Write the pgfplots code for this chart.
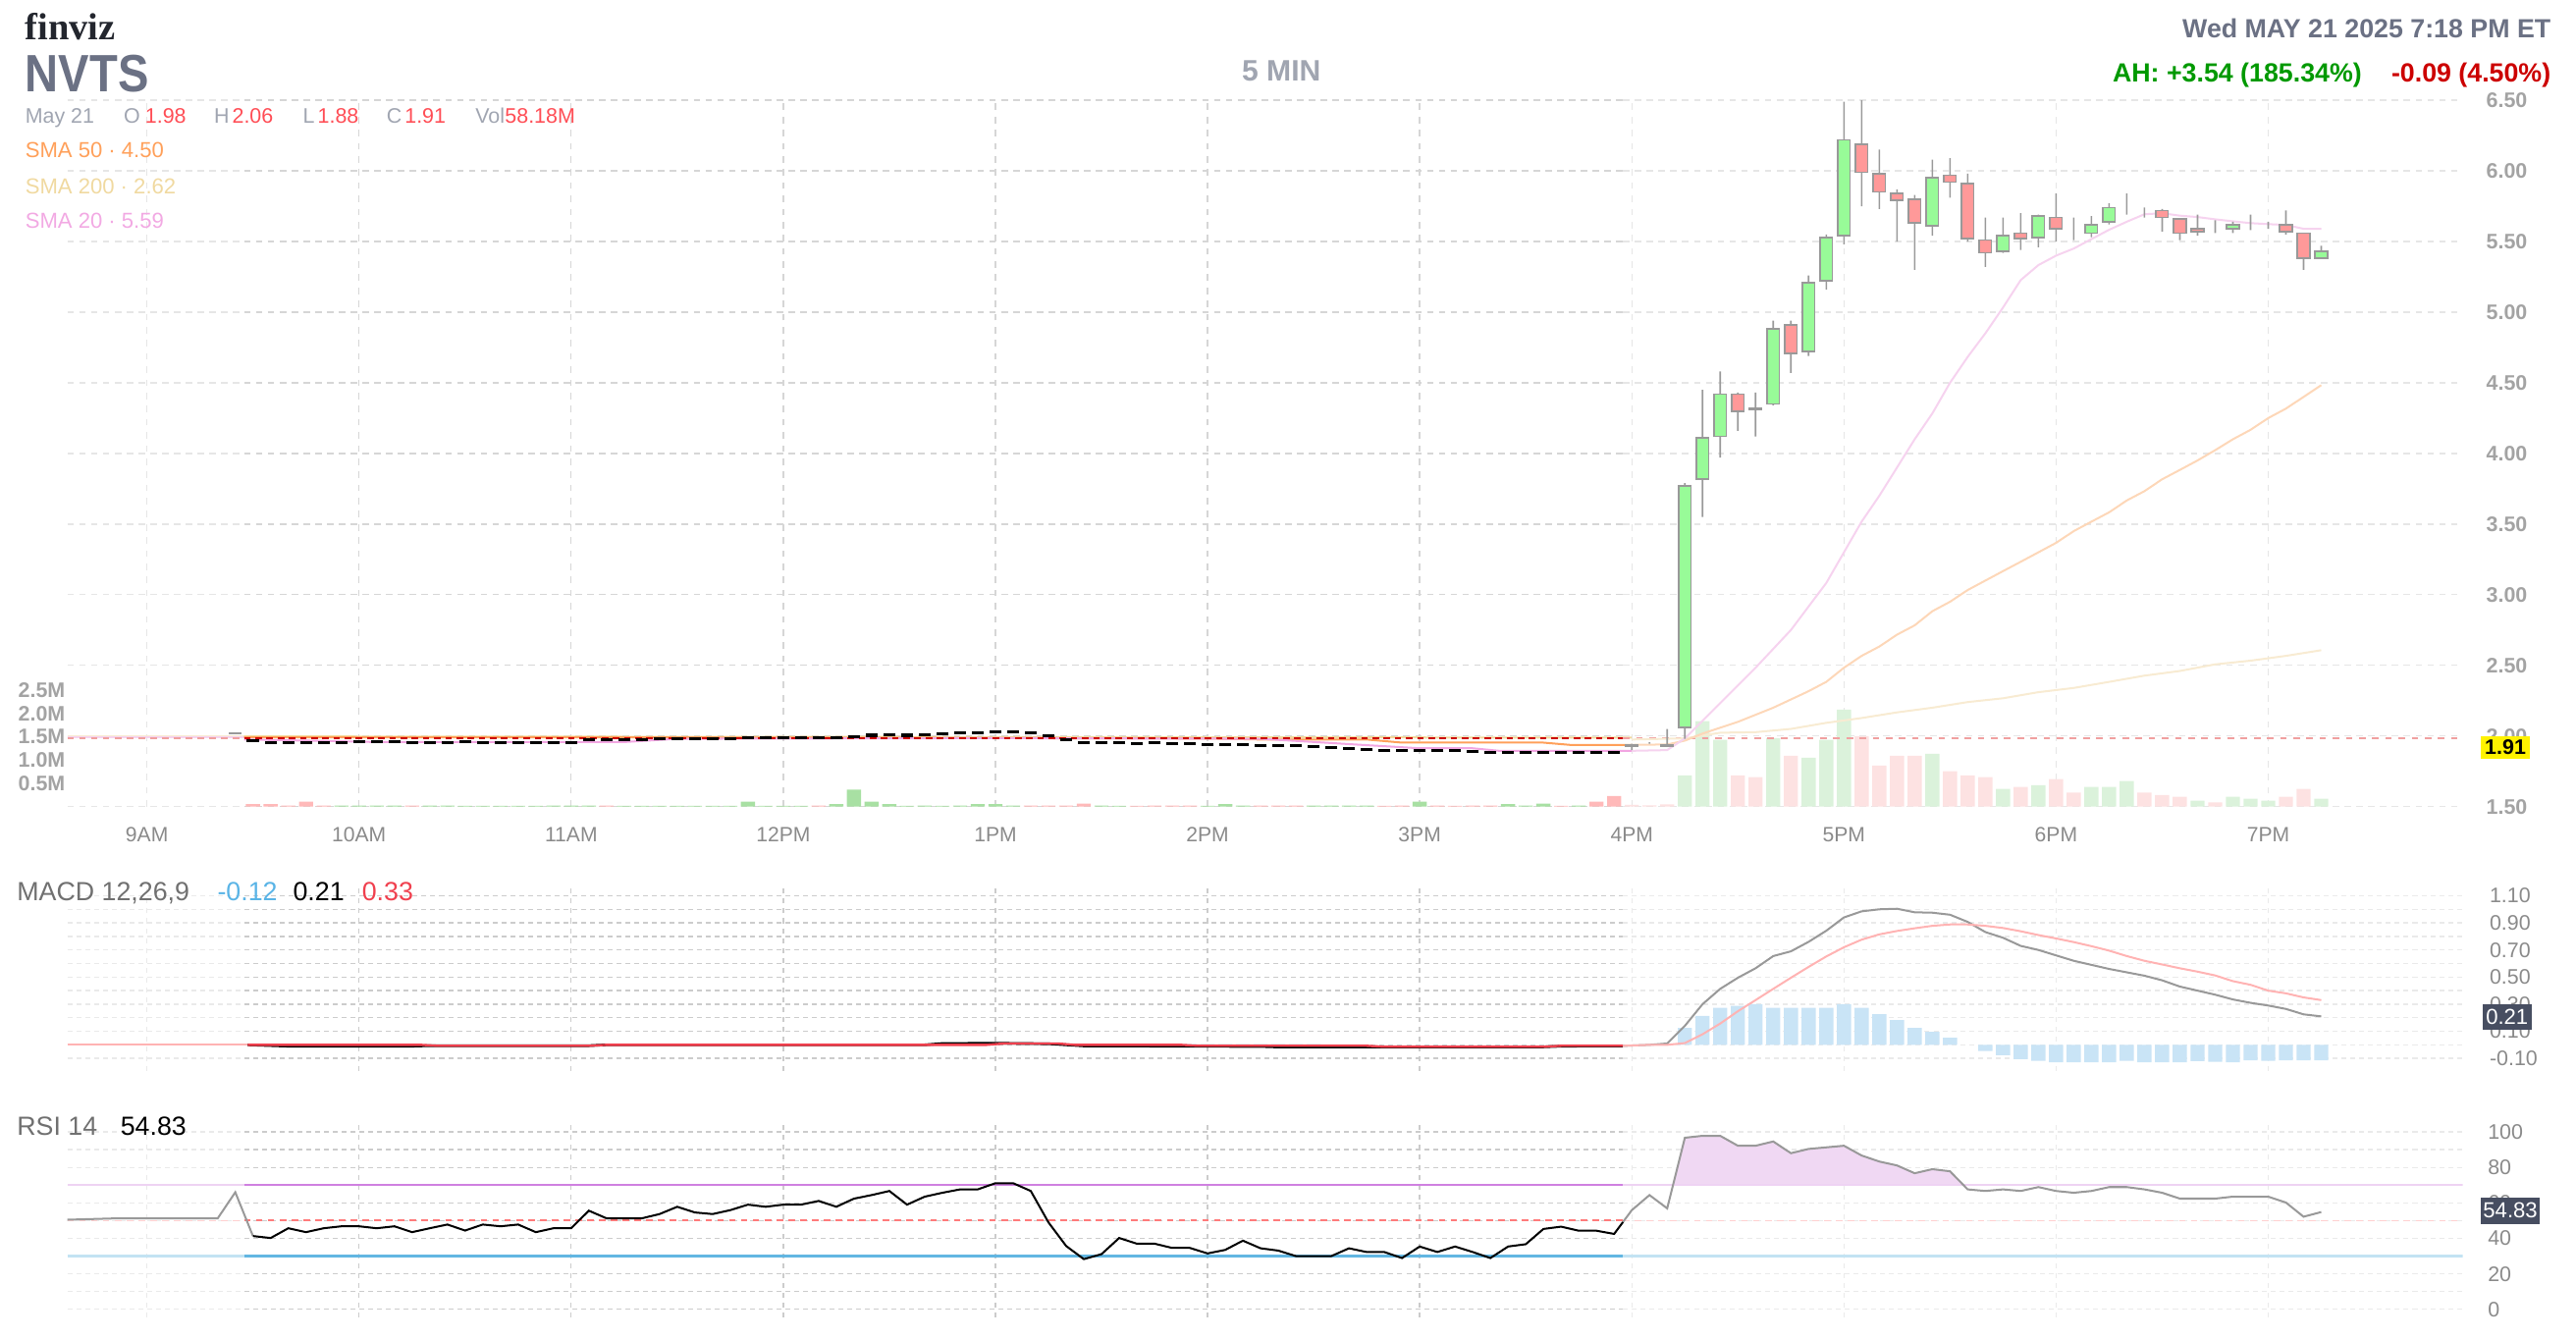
\documentclass[border=0pt]{standalone}
\usepackage{fontspec}
\setmainfont{Liberation Sans}
\newfontfamily\logofont{Liberation Serif}
\usepackage{graphicx}
\usepackage{pgfplots}
\usepackage{pgfplotstable}
\pgfplotsset{compat=1.18}

\definecolor{cgray}{HTML}{999999}
\definecolor{cgreen}{HTML}{98FB98}
\definecolor{cred}{HTML}{FF9999}
\definecolor{vgreen}{HTML}{A8E0A3}
\definecolor{vred}{HTML}{FFB9B9}
\definecolor{vgreenl}{HTML}{DBF2DB}
\definecolor{vredl}{HTML}{FDE2E2}
\definecolor{sma50}{HTML}{FFA05A}
\definecolor{sma50l}{HTML}{FDD7B8}
\definecolor{sma200}{HTML}{F2D89C}
\definecolor{sma200l}{HTML}{F8EBD2}
\definecolor{sma20}{HTML}{F2A6E2}
\definecolor{sma20l}{HTML}{F6D3EF}
\definecolor{closer}{HTML}{CC0000}
\definecolor{closerl}{HTML}{F0A0A0}
\definecolor{gridd}{HTML}{CCCCCC}
\definecolor{gridl}{HTML}{EAEAEA}
\definecolor{pgridd}{HTML}{D6D6D6}
\definecolor{pgridl}{HTML}{E6E6E6}
\definecolor{ticktxt}{HTML}{8A8A8A}
\definecolor{pricetxt}{HTML}{A3A3A3}
\definecolor{slate}{HTML}{6B7184}
\definecolor{lightslate}{HTML}{A0A5B1}
\definecolor{logo}{HTML}{23262E}
\definecolor{ahgreen}{HTML}{009900}
\definecolor{ahred}{HTML}{CC0000}
\definecolor{valred}{HTML}{FF4D55}
\definecolor{macdblue}{HTML}{5AB4E6}
\definecolor{histl}{HTML}{C9E4F6}
\definecolor{sigred}{HTML}{F0404E}
\definecolor{sigl}{HTML}{FFB3B3}
\definecolor{rsifill}{HTML}{F0D8F3}
\definecolor{r70}{HTML}{CF80E0}
\definecolor{r70l}{HTML}{EED3F3}
\definecolor{r30}{HTML}{62B6E2}
\definecolor{r30l}{HTML}{C3E3F3}
\definecolor{r50}{HTML}{FF7B7B}
\definecolor{r50l}{HTML}{FFD0D0}
\definecolor{tagdark}{HTML}{474E61}
\definecolor{labgrey}{HTML}{707070}
\definecolor{smatxt50}{HTML}{FFA05A}
\definecolor{smatxt200}{HTML}{F0D9A0}
\definecolor{smatxt20}{HTML}{F2A9E3}

\newcommand\fs[1]{\fontsize{#1}{#1}\selectfont}

\pgfplotsset{
 panel/.style={scale only axis, anchor=north west, at={(20.5pt,#1)}, width=729pt,
   xmin=-4.5, xmax=131, axis line style={draw=none}, tick style={draw=none}, major tick length=0pt},
 blank/.style={panel=#1, xtick=\empty, ytick=\empty},
 seg1/.style={at={(20.5pt,#1)}, xmin=-4.5, xmax=5.5, width=53.8pt, xtick={0}},
 seg2/.style={at={(74.3pt,#1)}, xmin=5.5, xmax=83.5, width=419.64pt, xtick={12,24,36,48,60,72}},
 seg3/.style={at={(493.94pt,#1)}, xmin=83.5, xmax=131, width=255.56pt, xtick={84,96,108,120}},
 gridbase/.style={panel=#1, xticklabel={\relax}, yticklabel={\relax}, grid=major},
 pg/.style={y grid style={draw=#1, line width=0.4pt, dash pattern=on 2pt off 1.6pt},
            x grid style={draw=#1, line width=0.4pt, dash pattern=on 2pt off 2pt}},
 ig/.style={y grid style={draw=#1, line width=0.4pt, dash pattern=on 1.5pt off 1.2pt},
            x grid style={draw=#1, line width=0.4pt, dash pattern=on 1.5pt off 1.5pt}},
 pricey/.style={height=215pt, ymin=1.5, ymax=6.5},
 macdy/.style={height=56pt, ymin=-0.1939, ymax=1.1636},
 rsiy/.style={height=58.5pt, ymin=-4.63, ymax=103.7},
 rlab/.style={yticklabel pos=right, yticklabel style={anchor=west, inner sep=0pt, xshift=#1, font=\fs{6.4pt}, text=ticktxt}},
}

% after-hours candles: bar index (5-min bars from 9:00), open, high, low, close
\pgfplotstableread{
i O H L C
84 1.94 1.945 1.90 1.93
85 1.95 1.955 1.945 1.95
86 1.94 2.05 1.93 1.93
87 2.06 3.79 1.98 3.77
88 3.82 4.45 3.55 4.11
89 4.12 4.58 3.97 4.42
90 4.42 4.43 4.16 4.30
91 4.31 4.43 4.12 4.32
92 4.35 4.94 4.34 4.88
93 4.91 4.94 4.57 4.71
94 4.72 5.26 4.69 5.21
95 5.22 5.55 5.16 5.53
96 5.54 6.49 5.48 6.22
97 6.19 6.50 5.75 5.99
98 5.98 6.15 5.73 5.85
99 5.84 5.87 5.50 5.79
100 5.80 5.83 5.30 5.63
101 5.61 6.08 5.54 5.95
102 5.97 6.09 5.81 5.92
103 5.91 5.98 5.50 5.52
104 5.51 5.67 5.32 5.42
105 5.43 5.67 5.42 5.54
106 5.56 5.70 5.44 5.52
107 5.53 5.69 5.46 5.68
108 5.67 5.84 5.50 5.59
109 5.58 5.67 5.51 5.58
110 5.56 5.68 5.53 5.62
111 5.64 5.77 5.62 5.74
112 5.74 5.84 5.69 5.74
113 5.74 5.74 5.67 5.74
114 5.72 5.73 5.57 5.67
115 5.66 5.66 5.51 5.56
116 5.59 5.69 5.54 5.57
117 5.59 5.65 5.56 5.59
118 5.59 5.64 5.56 5.62
119 5.63 5.69 5.58 5.63
120 5.62 5.64 5.59 5.62
121 5.62 5.72 5.55 5.57
122 5.56 5.56 5.30 5.38
123 5.38 5.47 5.38 5.43
}\ahc

% regular session closes
\pgfplotstableread{
i c
6 1.965
7 1.955
8 1.955
9 1.950
10 1.955
11 1.955
12 1.960
13 1.958
14 1.958
15 1.953
16 1.953
17 1.955
18 1.960
19 1.955
20 1.953
21 1.953
22 1.950
23 1.953
24 1.953
25 1.975
26 1.972
27 1.975
28 1.975
29 1.978
30 1.980
31 1.980
32 1.980
33 1.982
34 1.985
35 1.985
36 1.985
37 1.985
38 1.990
39 1.990
40 1.998
41 2.005
42 2.010
43 2.005
44 2.010
45 2.015
46 2.020
47 2.025
48 2.030
49 2.030
50 2.020
51 2.000
52 1.972
53 1.955
54 1.955
55 1.950
56 1.945
57 1.950
58 1.945
59 1.945
60 1.940
61 1.940
62 1.940
63 1.935
64 1.935
65 1.930
66 1.925
67 1.915
68 1.910
69 1.905
70 1.900
71 1.895
72 1.895
73 1.895
74 1.895
75 1.890
76 1.885
77 1.885
78 1.885
79 1.880
80 1.880
81 1.880
82 1.885
83 1.885
}\regc

\pgfplotstableread{
i r
6 41.3
7 40.2
8 45.7
9 43.5
10 45.7
11 46.8
12 46.8
13 45.7
14 46.8
15 43.5
16 45.7
17 47.8
18 44.4
19 47.8
20 46.8
21 47.8
22 43.5
23 45.7
24 45.7
25 55.6
26 51.3
27 51.3
28 51.3
29 53.7
30 57.8
31 54.6
32 53.7
33 55.9
34 59.0
35 57.8
36 59.0
37 59.0
38 61.1
39 57.8
40 62.4
41 64.4
42 66.7
43 59.0
44 63.5
45 65.7
46 67.6
47 67.6
48 71.1
49 71.1
50 66.7
51 49.0
52 35.7
53 28.3
54 31.1
55 40.2
56 37.0
57 37.0
58 34.6
59 34.6
60 31.5
61 33.5
62 38.7
63 34.4
64 33.1
65 30.0
66 30.0
67 30.0
68 34.4
69 32.3
70 32.3
71 28.9
72 35.4
73 32.3
74 35.4
75 32.3
76 28.9
77 35.4
78 36.7
79 45.3
80 46.6
81 44.3
82 44.3
83 42.5
83.5 49.2
}\rsireg

\pgfplotstableread{
i r
83.5 49.2
84 55.9
85 64.4
86 56.9
87 96.7
88 97.8
89 97.8
90 92.2
91 92.2
92 94.6
93 88.0
94 90.4
95 91.3
96 92.2
97 86.7
98 83.3
99 81.1
100 76.7
101 79.0
102 77.8
103 67.6
104 66.7
105 67.6
106 66.7
107 68.9
108 66.7
109 65.7
110 66.7
111 68.9
112 68.9
113 67.6
114 65.7
115 62.4
116 62.4
117 62.4
118 63.5
119 63.5
120 63.5
121 60.2
122 52.2
123 54.83
}\rsiah

\begin{document}
\begin{tikzpicture}
\useasboundingbox (0,0) rectangle (784pt,-407.5pt);

% ---------- grids (extended hours lighter, regular session darker)
\begin{axis}[gridbase=0pt, pricey, seg1=-30.5pt, pg=pgridl, ytick={1.5,2,2.5,3,3.5,4,4.5,5,5.5,6,6.5}]\end{axis}
\begin{axis}[gridbase=0pt, pricey, seg2=-30.5pt, pg=pgridd, ytick={1.5,2,2.5,3,3.5,4,4.5,5,5.5,6,6.5}]\end{axis}
\begin{axis}[gridbase=0pt, pricey, seg3=-30.5pt, pg=pgridl, ytick={1.5,2,2.5,3,3.5,4,4.5,5,5.5,6,6.5}]\end{axis}
\begin{axis}[gridbase=0pt, macdy, seg1=-270pt, ig=gridl, ytick={-0.1,0,0.1,0.2,0.3,0.4,0.5,0.6,0.7,0.8,0.9,1,1.1}]\end{axis}
\begin{axis}[gridbase=0pt, macdy, seg2=-270pt, ig=gridd, ytick={-0.1,0,0.1,0.2,0.3,0.4,0.5,0.6,0.7,0.8,0.9,1,1.1}]\end{axis}
\begin{axis}[gridbase=0pt, macdy, seg3=-270pt, ig=gridl, ytick={-0.1,0,0.1,0.2,0.3,0.4,0.5,0.6,0.7,0.8,0.9,1,1.1}]\end{axis}
\begin{axis}[gridbase=0pt, rsiy, seg1=-342.5pt, ig=gridl, ytick={0,10,...,100}]\end{axis}
\begin{axis}[gridbase=0pt, rsiy, seg2=-342.5pt, ig=gridd, ytick={0,10,...,100}]\end{axis}
\begin{axis}[gridbase=0pt, rsiy, seg3=-342.5pt, ig=gridl, ytick={0,10,...,100}]\end{axis}

% ---------- price axis labels
\begin{axis}[panel=-30.5pt, pricey,
  ytick={1.5,2,2.5,3,3.5,4,4.5,5,5.5,6,6.5},
  yticklabels={1.50,2.00,2.50,3.00,3.50,4.00,4.50,5.00,5.50,6.00,6.50},
  yticklabel pos=right,
  yticklabel style={anchor=west, inner sep=0pt, xshift=7pt, font=\fs{6.4pt}\bfseries, text=pricetxt},
  xtick={0,12,...,120},
  xticklabels={9AM,10AM,11AM,12PM,1PM,2PM,3PM,4PM,5PM,6PM,7PM},
  xticklabel style={anchor=base, inner sep=0pt, yshift=-10.85pt, font=\fs{6.3pt}, text=ticktxt}]
\end{axis}

% ---------- volume
\begin{axis}[panel=-30.5pt, height=215pt, ymin=0, ymax=15.14, xtick=\empty,
  ytick={0.5,1,1.5,2,2.5}, yticklabels={0.5M,1.0M,1.5M,2.0M,2.5M},
  yticklabel style={anchor=east, inner sep=0pt, xshift=-0.5pt, font=\fs{6.4pt}\bfseries, text=pricetxt}]
\addplot[ybar, bar width=0.8, bar shift=0pt, fill=vgreen, draw=none] coordinates {
(11,0.02)(12,0.02)(13,0.02)(14,0.02)(16,0.02)(17,0.02)(18,0.015)(19,0.015)(20,0.015)(21,0.015)(22,0.015)(23,0.02)(24,0.02)(25,0.02)(27,0.015)(28,0.015)(29,0.015)(30,0.015)(31,0.015)(32,0.015)(33,0.015)(34,0.105)(35,0.015)(36,0.015)(37,0.015)(39,0.056)(40,0.365)(41,0.105)(42,0.056)(43,0.015)(44,0.02)(45,0.015)(46,0.02)(47,0.056)(48,0.056)(49,0.02)(54,0.02)(55,0.015)(60,0.015)(61,0.056)(62,0.02)(66,0.02)(67,0.02)(68,0.02)(69,0.02)(72,0.105)(77,0.056)(78,0.02)(79,0.063)(81,0.02)};
\addplot[ybar, bar width=0.8, bar shift=0pt, fill=vred, draw=none] coordinates {
(6,0.056)(7,0.056)(8,0.02)(9,0.105)(10,0.02)(15,0.02)(26,0.02)(38,0.02)(50,0.02)(51,0.02)(52,0.02)(53,0.063)(56,0.015)(57,0.02)(58,0.02)(59,0.02)(63,0.02)(64,0.02)(65,0.02)(70,0.015)(71,0.02)(73,0.02)(74,0.015)(75,0.02)(76,0.02)(80,0.015)(82,0.105)(83,0.23)};
\addplot[ybar, bar width=0.8, bar shift=0pt, fill=vgreenl, draw=none] coordinates {
(87,0.67)(88,1.83)(89,1.43)(92,1.47)(94,1.05)(95,1.43)(96,2.08)(101,1.13)(105,0.38)(107,0.46)(110,0.42)(111,0.42)(112,0.55)(116,0.13)(118,0.21)(119,0.17)(120,0.13)(123,0.17)};
\addplot[ybar, bar width=0.8, bar shift=0pt, fill=vredl, draw=none] coordinates {
(84,0.04)(85,0.03)(86,0.05)(90,0.67)(91,0.63)(93,1.09)(97,1.51)(98,0.88)(99,1.09)(100,1.09)(102,0.76)(103,0.67)(104,0.63)(106,0.42)(108,0.59)(109,0.30)(113,0.30)(114,0.25)(115,0.21)(117,0.09)(121,0.21)(122,0.38)};
\end{axis}

% ---------- price lines and regular-session candles
\begin{axis}[blank=-30.5pt, pricey]
% pre-market (faded)
\addplot[sma200l, line width=0.5pt] coordinates {(-4.5,2.0)(5.5,2.0)};
\addplot[sma50l, line width=0.5pt] coordinates {(-4.5,1.995)(5.5,1.995)};
\addplot[sma20l, line width=0.5pt] coordinates {(-4.5,1.99)(5.5,1.99)};
\addplot[closerl, line width=0.5pt, dash pattern=on 2pt off 1.6pt] coordinates {(-4.5,1.985)(5.5,1.985)};
% regular session
\addplot[sma200, line width=0.6pt] coordinates {(5.5,1.997)(84,1.988)};
\addplot[sma50, line width=0.6pt] coordinates {(5.5,1.99)(30,1.99)(48,1.985)(60,1.982)(63,1.975)(69,1.975)(71,1.953)(79,1.953)(80.5,1.937)(84,1.937)};
\addplot[sma20, line width=0.6pt] coordinates {(5.5,1.975)(10,1.965)(13,1.957)(27,1.957)(30,1.98)(48,1.985)(63,1.98)(69,1.935)(72,1.913)(75,1.913)(76.5,1.895)(84,1.895)};
\addplot[closer, line width=0.6pt, dash pattern=on 2pt off 1.4pt] coordinates {(5.5,1.985)(83.5,1.985)};
% after hours (faded)
\addplot[closerl, line width=0.5pt, dash pattern=on 2pt off 2pt] coordinates {(83.5,1.985)(131,1.985)};
\addplot[sma200l, line width=0.6pt] coordinates {(84,1.975)(87,1.983)(89,2.023)(91,2.027)(93,2.05)(95,2.093)(97,2.127)(99,2.167)(101,2.20)(103,2.24)(105,2.267)(107,2.31)(109,2.34)(111,2.383)(113,2.427)(115,2.46)(117,2.507)(119,2.533)(121,2.567)(123,2.607)};
\addplot[sma50l, line width=0.6pt] coordinates {(84,1.937)(86,1.94)(87,1.967)(88,2.017)(90,2.10)(92,2.20)(94,2.317)(95,2.383)(96,2.483)(97,2.567)(98,2.633)(99,2.717)(100,2.783)(101,2.883)(102,2.95)(103,3.033)(104,3.10)(105,3.167)(106,3.233)(107,3.30)(108,3.367)(109,3.45)(110,3.517)(111,3.583)(112,3.667)(113,3.733)(114,3.817)(115,3.883)(116,3.95)(117,4.023)(118,4.10)(119,4.167)(120,4.25)(121,4.317)(122,4.40)(123,4.483)};
\addplot[sma20l, line width=0.6pt] coordinates {(84,1.895)(86,1.90)(87,1.983)(89,2.233)(91,2.483)(93,2.75)(95,3.083)(96,3.30)(97,3.517)(98,3.70)(99,3.90)(100,4.10)(101,4.283)(102,4.50)(103,4.683)(104,4.85)(105,5.033)(106,5.227)(107,5.333)(108,5.40)(109,5.45)(110,5.517)(111,5.583)(112,5.64)(113,5.693)(114,5.70)(115,5.683)(116,5.673)(117,5.657)(118,5.643)(119,5.63)(120,5.623)(121,5.617)(122,5.59)(123,5.59)};
% regular-session candles (tiny, black)
\addplot[only marks, mark=-, mark size=1.85pt, mark options={line width=0.9pt, black}] table[x=i, y=c] {\regc};
% pre-market candle
\addplot[only marks, mark=-, mark size=1.85pt, mark options={line width=0.7pt, cgray}] coordinates {(5,2.02)};
\end{axis}

% ---------- after-hours wicks
\begin{axis}[blank=-30.5pt, pricey, ybar stacked, bar width=0.09, clip=false]
\addplot[draw=none, fill=none] table[x=i, y=L] {\ahc};
\addplot[draw=none, fill=cgray] table[x=i, y expr={\thisrow{H}-\thisrow{L}}] {\ahc};
\end{axis}
% ---------- after-hours bodies
\begin{axis}[blank=-30.5pt, pricey, ybar stacked, bar width=0.69, clip=false]
\addplot[draw=none, fill=none] table[x=i, y expr={min(\thisrow{O},\thisrow{C})}] {\ahc};
\addplot[draw=cgray, fill=cgreen, line width=0.5pt] table[x=i, y expr={max(\thisrow{C}-\thisrow{O},0)}] {\ahc};
\addplot[draw=cgray, fill=cred, line width=0.5pt] table[x=i, y expr={max(\thisrow{O}-\thisrow{C},0)}] {\ahc};
\end{axis}

% ---------- MACD
\begin{axis}[panel=-270pt, macdy, xtick=\empty, rlab=8pt,
  ytick={-0.1,0.1,0.3,0.5,0.7,0.9,1.1},
  yticklabels={-0.10,0.10,0.30,0.50,0.70,0.90,1.10}]
\addplot[ybar, bar width=0.8, bar shift=0pt, fill=macdblue, draw=none] coordinates {(59,0.004)(60,0.004)(61,0.004)(62,0.004)(63,0.004)(64,0.004)(65,0.004)(66,0.004)};
\addplot[ybar, bar width=0.8, bar shift=0pt, fill=histl, draw=none] coordinates {
(87,0.124)(88,0.213)(89,0.273)(90,0.288)(91,0.30)(92,0.273)(93,0.273)(94,0.273)(95,0.273)(96,0.30)(97,0.273)(98,0.227)(99,0.183)(100,0.124)(101,0.095)(102,0.052)(104,-0.045)(105,-0.076)(106,-0.105)(107,-0.117)(108,-0.128)(109,-0.128)(110,-0.128)(111,-0.128)(112,-0.117)(113,-0.128)(114,-0.128)(115,-0.128)(116,-0.12)(117,-0.125)(118,-0.128)(119,-0.115)(120,-0.118)(121,-0.115)(122,-0.115)(123,-0.115)};
\addplot[sigl, line width=0.6pt] coordinates {(-4.5,0)(5.7,0)};
\addplot[black, line width=0.8pt] coordinates {(5.7,0)(8,-0.01)(15,-0.01)(16,-0.006)(25,-0.006)(26,0)(44,0)(45,0.01)(48,0.012)(51,0.008)(52,0)(53,-0.008)(58,-0.01)(63,-0.012)(64,-0.016)(70,-0.016)(79,-0.015)(80,-0.01)(83.5,-0.008)};
\addplot[sigred, line width=0.7pt] coordinates {(5.7,0)(15.5,0)(16.5,-0.007)(25,-0.007)(26,0)(47.5,0)(48.5,0.01)(51.5,0.01)(52.5,0)(58.5,0)(59.5,-0.007)(69,-0.007)(70,-0.014)(79,-0.014)(80,-0.007)(83.5,-0.007)};
\addplot[cgray, line width=0.6pt] coordinates {(83.5,-0.008)(84,-0.005)(85,0)(86,0.01)(87,0.14)(88,0.30)(89,0.413)(90,0.495)(91,0.565)(92,0.655)(93,0.69)(94,0.76)(95,0.842)(96,0.94)(97,0.985)(98,1.0)(99,1.004)(100,0.978)(101,0.975)(102,0.96)(103,0.907)(104,0.832)(105,0.79)(106,0.73)(107,0.70)(108,0.66)(109,0.62)(110,0.59)(111,0.56)(112,0.535)(113,0.51)(114,0.476)(115,0.43)(116,0.40)(117,0.37)(118,0.335)(119,0.31)(120,0.29)(121,0.265)(122,0.225)(123,0.21)};
\addplot[sigl, line width=0.6pt] coordinates {(83.5,-0.007)(85,0)(86,0)(87,0.013)(88,0.078)(89,0.157)(90,0.248)(91,0.33)(92,0.413)(93,0.495)(94,0.575)(95,0.652)(96,0.72)(97,0.776)(98,0.815)(99,0.84)(100,0.86)(101,0.878)(102,0.888)(103,0.888)(104,0.878)(105,0.862)(106,0.838)(107,0.81)(108,0.785)(109,0.758)(110,0.728)(111,0.695)(112,0.655)(113,0.62)(114,0.593)(115,0.565)(116,0.54)(117,0.512)(118,0.47)(119,0.443)(120,0.40)(121,0.38)(122,0.35)(123,0.33)};
\end{axis}

% ---------- RSI overbought fill (axis whose lower limit is the 70 level)
\begin{axis}[blank=-342.5pt, height=18.2pt, ymin=70, ymax=103.7]
\addplot[fill=rsifill, draw=none] table[x=i, y=r] {\rsiah} \closedcycle;
\end{axis}

% ---------- RSI
\begin{axis}[panel=-342.5pt, rsiy, xtick=\empty, rlab=7.5pt,
  ytick={0,20,40,60,80,100}, yticklabels={0,20,40,60,80,100}]
\addplot[r50l, line width=0.5pt, dash pattern=on 2pt off 1.6pt] coordinates {(-4.5,50)(5.5,50)};
\addplot[r50, line width=0.6pt, dash pattern=on 2pt off 1.6pt] coordinates {(5.5,50)(83.5,50)};
\addplot[r50l, line width=0.5pt, dash pattern=on 2pt off 1.6pt] coordinates {(83.5,50)(131,50)};
\addplot[r30l, line width=0.7pt] coordinates {(-4.5,30)(5.5,30)};
\addplot[r30, line width=0.7pt] coordinates {(5.5,30)(83.5,30)};
\addplot[r30l, line width=0.7pt] coordinates {(83.5,30)(131,30)};
\addplot[r70l, line width=0.7pt] coordinates {(-4.5,70)(5.5,70)};
\addplot[r70, line width=0.7pt] coordinates {(5.5,70)(83.5,70)};
\addplot[r70l, line width=0.7pt] coordinates {(83.5,70)(131,70)};
\addplot[cgray, line width=0.6pt] coordinates {(-4.5,50.5)(-2,51.2)(4,51.2)(5,66)(6,41.3)};
\addplot[black, line width=0.6pt] table[x=i, y=r] {\rsireg};
\addplot[cgray, line width=0.6pt] table[x=i, y=r] {\rsiah};
\end{axis}

% ---------- header texts
\node[anchor=base west, inner sep=0, text=logo] at (7.5pt,-12pt) {\logofont\bfseries\fs{11.5pt}finviz};
\node[anchor=base west, inner sep=0, text=slate] at (7.5pt,-28pt) {\scalebox{0.88}[1]{\bfseries\fs{16pt}NVTS}};
\node[anchor=base, inner sep=0, text=lightslate] at (390pt,-24.75pt) {\bfseries\fs{9pt}5 MIN};
\node[anchor=base east, inner sep=0, text=slate] at (776.5pt,-11.5pt) {\bfseries\fs{8pt}Wed MAY 21 2025 7:18 PM ET};
\node[anchor=base east, inner sep=0, text=ahred] at (776.5pt,-25pt) {\bfseries\fs{8pt}-0.09 (4.50\%)};
\node[anchor=base east, inner sep=0, text=ahgreen] at (719pt,-25pt) {\bfseries\fs{8pt}AH: +3.54 (185.34\%)};

\begin{scope}[every node/.style={anchor=base west, inner sep=0, font=\fs{6.4pt}}]
\node[text=lightslate] at (7.5pt,-37.5pt) {May 21};
\node[text=lightslate] at (37.5pt,-37.5pt) {O};
\node[text=valred] at (44pt,-37.5pt) {1.98};
\node[text=lightslate] at (65pt,-37.5pt) {H};
\node[text=valred] at (70.5pt,-37.5pt) {2.06};
\node[text=lightslate] at (92pt,-37.5pt) {L};
\node[text=valred] at (96.5pt,-37.5pt) {1.88};
\node[text=lightslate] at (117.5pt,-37.5pt) {C};
\node[text=valred] at (123pt,-37.5pt) {1.91};
\node[text=lightslate] at (144.5pt,-37.5pt) {Vol};
\node[text=valred] at (153.5pt,-37.5pt) {58.18M};
\end{scope}
\begin{scope}[every node/.style={anchor=base west, inner sep=0, font=\fs{6.6pt}}]
\node[text=smatxt50] at (7.5pt,-48pt) {SMA 50 · 4.50};
\node[text=smatxt200] at (7.5pt,-59pt) {SMA 200 · 2.62};
\node[text=smatxt20] at (7.5pt,-69.5pt) {SMA 20 · 5.59};
\end{scope}

% ---------- indicator titles
\begin{scope}[every node/.style={anchor=base west, inner sep=0, font=\fs{8pt}}]
\node[text=labgrey] at (5pt,-274pt) {MACD 12,26,9};
\node[text=macdblue] at (66pt,-274pt) {-0.12};
\node[text=black] at (89pt,-274pt) {0.21};
\node[text=sigred] at (110pt,-274pt) {0.33};
\node[text=labgrey] at (5pt,-345.5pt) {RSI 14};
\node[text=black] at (36.5pt,-345.5pt) {54.83};
\end{scope}

% ---------- value tags
\node[fill=yellow, inner sep=0, minimum width=15pt, minimum height=7pt, font=\bfseries\fs{6.4pt}] at (762.5pt,-227.5pt) {1.91};
\node[fill=tagdark, text=white, inner sep=0, minimum width=15pt, minimum height=8pt, font=\fs{6.6pt}] at (763pt,-309.5pt) {0.21};
\node[fill=tagdark, text=white, inner sep=0, minimum width=18pt, minimum height=8pt, font=\fs{6.6pt}] at (764pt,-368.5pt) {54.83};
\end{tikzpicture}
\end{document}
